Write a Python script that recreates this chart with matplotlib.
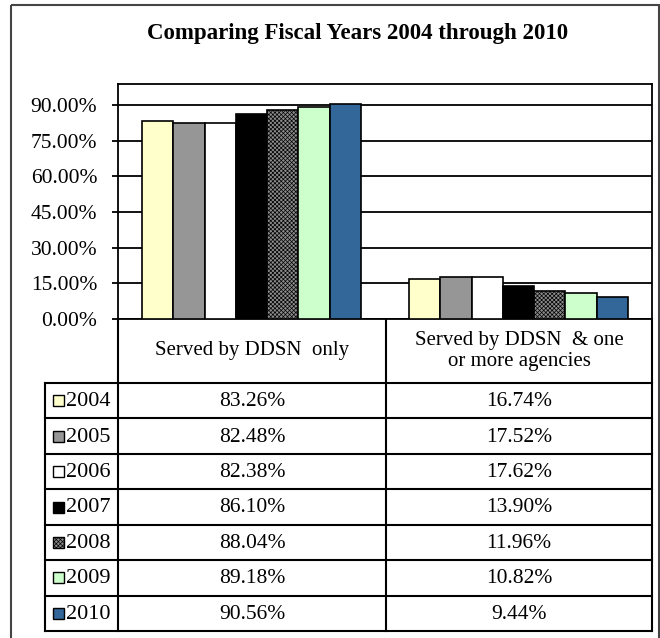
import matplotlib
matplotlib.use("Agg")
import matplotlib.pyplot as plt
from matplotlib.patches import Rectangle
import numpy as np

plt.rcParams['font.family'] = ['Liberation Serif', 'DejaVu Serif']
plt.rcParams['hatch.linewidth'] = 0.5

# data
categories = ["Served by DDSN  only", "Served by DDSN  & one\nor more agencies"]
years = ["2004", "2005", "2006", "2007", "2008", "2009", "2010"]
ddsn_only = [83.26, 82.48, 82.38, 86.10, 88.04, 89.18, 90.56]
ddsn_plus = [16.74, 17.52, 17.62, 13.90, 11.96, 10.82, 9.44]
yticks = [0, 15, 30, 45, 60, 75, 90]

colors = ["#FFFFCC", "#969696", "#FFFFFF", "#000000", "#8C8C8C", "#CCFFCC", "#336699"]
hatches = [None, None, None, None, "xxxxxxxx", None, None]

W, H = 660, 638
fig = plt.figure(figsize=(W / 100, H / 100), dpi=100)

# pixel layout (from the reference)
px_left, px_right, px_top, px_bottom = 118, 652, 84, 319
ax = fig.add_axes([px_left / W, 1 - px_bottom / H,
                   (px_right - px_left) / W, (px_bottom - px_top) / H])

x = np.arange(len(categories))
bw = 0.117
for i, yr in enumerate(years):
    vals = [ddsn_only[i], ddsn_plus[i]]
    ax.bar(x + (i - 3) * bw, vals, width=bw, color=colors[i],
           edgecolor="black", linewidth=1.2, hatch=hatches[i], zorder=3)

ax.set_xlim(-0.5, 1.5)
ax.set_ylim(0, 98.8)
ax.set_yticks(yticks)
ax.set_yticklabels([f"{v:.2f}%" for v in yticks], fontsize=15.5)
ax.set_xticks([])
ax.yaxis.grid(True, color="black", linewidth=1.3, zorder=0)
ax.set_axisbelow(True)
ax.tick_params(axis="y", direction="out", length=4.5, width=1.3, pad=10.5)
for s in ax.spines.values():
    s.set_linewidth(1.3)

# overlay in pixel coordinates for title, data table and border
ov = fig.add_axes([0, 0, 1, 1], zorder=-1)
ov.set_xlim(0, W)
ov.set_ylim(H, 0)
ov.axis("off")

ov.add_patch(Rectangle((11, 5), 648, 640, fill=False, edgecolor="#444444", linewidth=1.5))
ov.text(358, 33, "Comparing Fiscal Years 2004 through 2010", ha="center", va="center",
        fontsize=16.5, fontweight="bold")

lw = 1.5
hdr_bottom = 383
row_h = (631 - hdr_bottom) / len(years)
table_bottom = hdr_bottom + row_h * len(years)
leg_left = 45
col_edges = [px_left, 386, px_right]

for k in range(len(years) + 1):
    yy = hdr_bottom + k * row_h
    ov.plot([leg_left, px_right], [yy, yy], color="black", lw=lw)
ov.plot([leg_left, leg_left], [hdr_bottom, table_bottom], color="black", lw=lw)
for xe in col_edges:
    ov.plot([xe, xe], [px_bottom, table_bottom], color="black", lw=lw)

for j, cat in enumerate(categories):
    xc = (col_edges[j] + col_edges[j + 1]) / 2
    ov.text(xc, (px_bottom + hdr_bottom) / 2, cat, ha="center", va="center",
            fontsize=15, linespacing=1.15)

series = [ddsn_only, ddsn_plus]
for i, yr in enumerate(years):
    yc = hdr_bottom + (i + 0.5) * row_h
    ov.add_patch(Rectangle((53, yc - 5.5), 11, 11, facecolor=colors[i], edgecolor="black",
                           linewidth=1.0, hatch=hatches[i]))
    ov.text(66, yc + 1, yr, ha="left", va="center", fontsize=16)
    for j in range(len(categories)):
        xc = (col_edges[j] + col_edges[j + 1]) / 2
        ov.text(xc, yc + 1, f"{series[j][i]:.2f}%", ha="center", va="center", fontsize=15.5)

fig.savefig("out.png", dpi=100)
